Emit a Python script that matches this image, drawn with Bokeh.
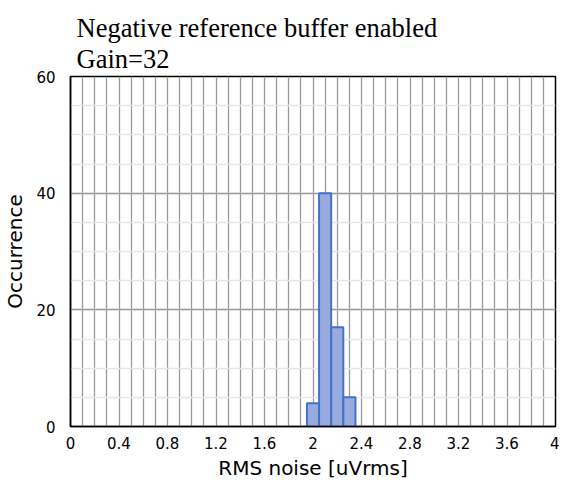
from bokeh.plotting import figure
from bokeh.models import SingleIntervalTicker, FixedTicker, Range1d
from bokeh.embed import file_html
from bokeh.resources import INLINE

# Data
bin_centers = [2.0, 2.1, 2.2, 2.3]
occurrence = [4, 40, 17, 5]
bin_width = 0.1
x_ticks = [0, 0.4, 0.8, 1.2, 1.6, 2.0, 2.4, 2.8, 3.2, 3.6, 4.0]
x_tick_labels = ["0", "0.4", "0.8", "1.2", "1.6", "2", "2.4", "2.8", "3.2", "3.6", "4"]
y_ticks = [0, 20, 40, 60]
title_text = "Negative reference buffer enabled\nGain=32"
x_label = "RMS noise [uVrms]"
y_label = "Occurrence"

p = figure(output_backend="svg", toolbar_location=None,
           x_range=Range1d(0, 4), y_range=Range1d(0, 60),
           frame_width=485, frame_height=350,
           min_border_left=64, min_border_right=4, min_border_top=76, min_border_bottom=54)

p.background_fill_color = "white"
p.border_fill_color = "white"
p.outline_line_color = "black"
p.outline_line_width = 1.5
p.outline_line_alpha = 1.0

# Title
p.title.text = title_text
p.title.text_font = "Liberation Serif"
p.title.text_font_size = "26.5px"
p.title.text_font_style = "normal"
p.title.text_color = "black"
p.title.align = "left"
p.title.offset = 6
p.title.standoff = 5
p.title.text_line_height = 1.05

# Grids
p.xgrid.ticker = SingleIntervalTicker(interval=0.1)
p.xgrid.grid_line_color = "#9a9a9a"
p.xgrid.grid_line_width = 1.3
p.ygrid.ticker = SingleIntervalTicker(interval=20, num_minor_ticks=4)
p.ygrid.grid_line_color = "#9a9a9a"
p.ygrid.grid_line_width = 1.3
p.ygrid.minor_grid_line_color = "#e6e6e6"
p.ygrid.minor_grid_line_width = 1.3

# Bars
p.vbar(x=bin_centers, top=occurrence, width=bin_width, bottom=0,
       fill_color="#98ABDE", fill_alpha=1.0, line_color="#4472C4", line_width=2)

# Axes
p.xaxis.ticker = FixedTicker(ticks=x_ticks)
p.xaxis.major_label_overrides = {t: l for t, l in zip(x_ticks, x_tick_labels)}
p.yaxis.ticker = FixedTicker(ticks=y_ticks)
for ax in (p.xaxis[0], p.yaxis[0]):
    ax.axis_line_color = "black"
    ax.axis_line_width = 1.5
    ax.major_tick_out = 0
    ax.major_tick_in = 0
    ax.minor_tick_out = 0
    ax.minor_tick_in = 0
    ax.major_label_text_font = "DejaVu Sans"
    ax.major_label_text_font_size = "15px"
    ax.major_label_text_color = "black"
    ax.axis_label_text_font = "DejaVu Sans"
    ax.axis_label_text_font_size = "20px"
    ax.axis_label_text_font_style = "normal"
    ax.axis_label_text_color = "black"

p.xaxis.axis_label = x_label
p.yaxis.axis_label = y_label
p.xaxis.major_label_standoff = 10
p.yaxis.major_label_standoff = 15
p.xaxis.axis_label_standoff = 4
p.yaxis.axis_label_standoff = 6

open("out.html", "w").write(file_html(p, INLINE))
